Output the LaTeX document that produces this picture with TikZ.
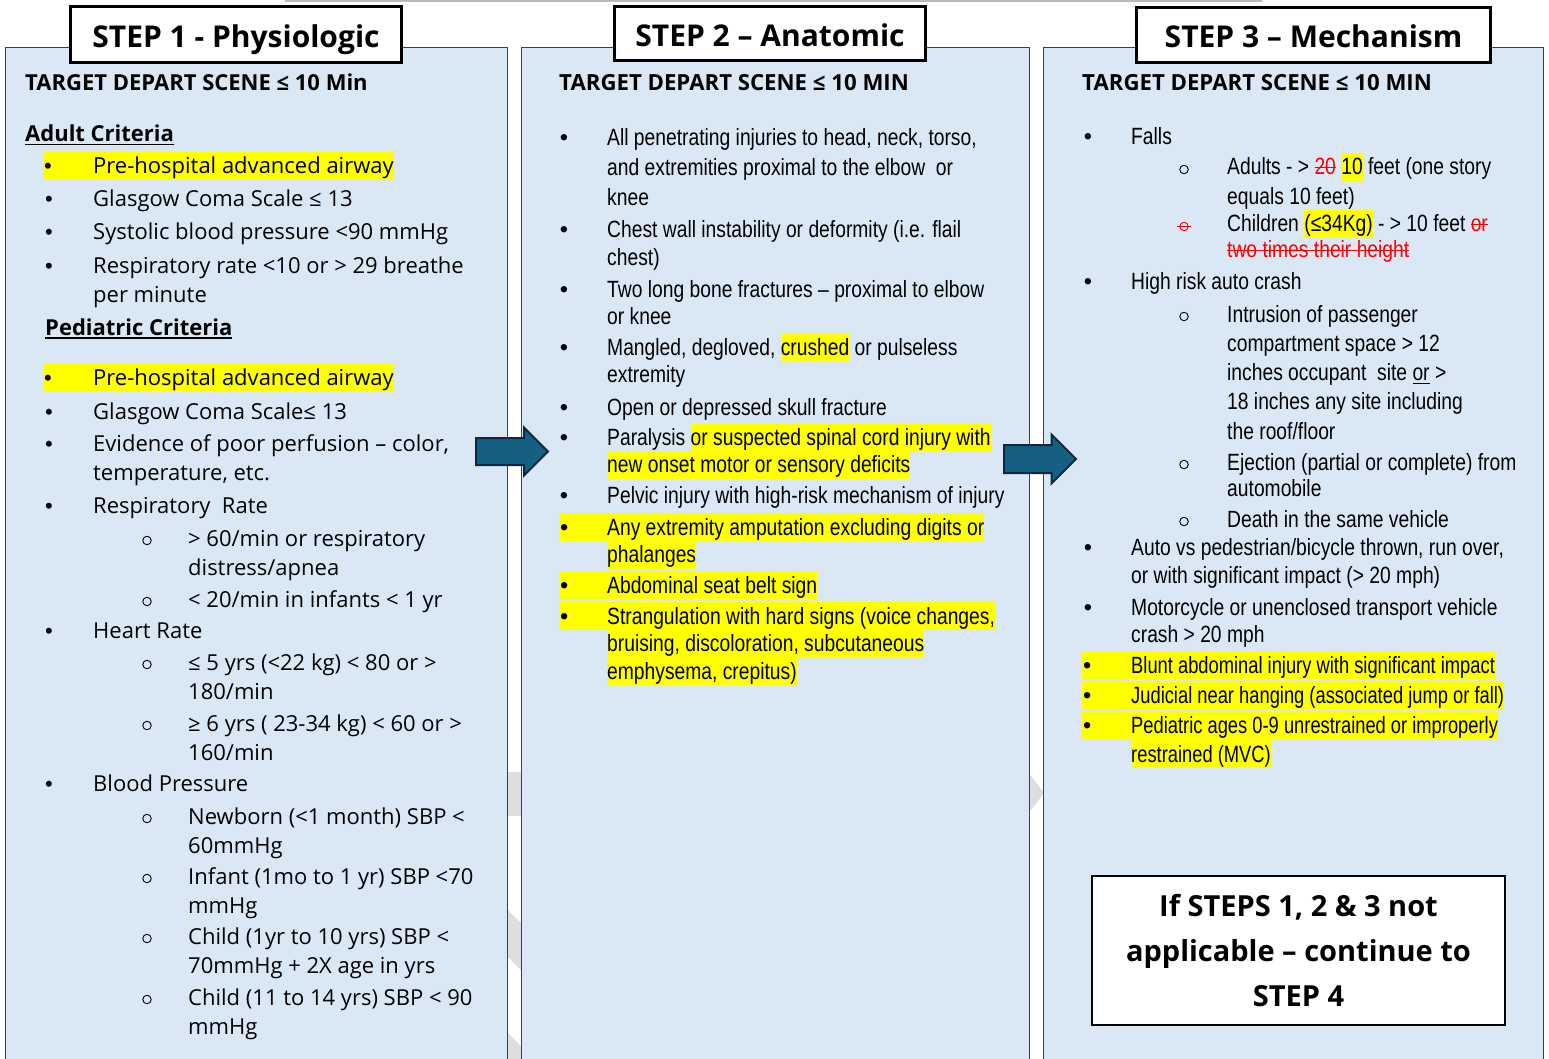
\documentclass[tikz,border=0pt]{standalone}
\usepackage{fontspec}
\usetikzlibrary{shapes.arrows}

\setmainfont{Open Sans}
\newfontfamily\narrowfont[FakeStretch=0.82]{Liberation Sans}
\newfontfamily\tightfont[FakeStretch=0.78]{Liberation Sans}
\newfontfamily\bulletfont{Liberation Sans}

\definecolor{panelblue}{HTML}{DAE8F5}
\definecolor{panelline}{HTML}{404040}
\definecolor{hlyellow}{HTML}{FFFF00}
\definecolor{arrowfill}{HTML}{156082}
\definecolor{arrowline}{HTML}{0E2841}
\definecolor{struck}{HTML}{FF0000}
\definecolor{wmgray}{HTML}{DEDEDE}

\setlength{\lineskiplimit}{-30pt}

% text sizes for the three columns
\newcommand{\lcol}{\fontsize{22}{29.5}\selectfont}
\newcommand{\ncol}{\narrowfont\fontsize{23.5}{27.5}\selectfont}
\newcommand{\ncolwide}{\narrowfont\fontsize{23.5}{30}\selectfont}
\newcommand{\rcol}{\narrowfont\fontsize{23.5}{28}\selectfont}
\newcommand{\rcolwide}{\narrowfont\fontsize{23.5}{29.3}\selectfont}
\newcommand{\rcoltight}{\tightfont\fontsize{23.5}{29}\selectfont}
% first line of a stack sits on the node's base
\newcommand{\lines}[1]{\vtop{\let\\\cr\halign{##\hfil\cr#1\crcr}}}
\newcommand{\bulsym}{{\bulletfont\textbullet}}
\newcommand{\hl}[1]{{\setlength{\fboxsep}{0pt}\colorbox{hlyellow}{\rule[-6pt]{0pt}{28pt}#1}}}
\newcommand{\hlbul}[1]{\hl{\makebox[#1][l]{\hspace{1pt}\bulsym}}}
\newsavebox{\markbox}
\newcommand{\gone}[1]{{\color{struck}\sbox{\markbox}{#1}\rlap{\rule[0.3em]{\wd\markbox}{1.3pt}}\usebox{\markbox}}}
\newcommand{\uln}[1]{{\sbox{\markbox}{#1}\rlap{\rule[-3.5pt]{\wd\markbox}{1.6pt}}\usebox{\markbox}}}

\begin{document}
\begin{tikzpicture}[
      x=1pt, y=-1pt,
      panel/.style={
          draw=panelline,
          line width=1.3pt,
          fill=panelblue,
          anchor=north west,
          inner sep=0,
          minimum height=1040pt
        },
      titlebox/.style={
          draw=black,
          line width=3pt,
          fill=white,
          inner sep=0,
          text height=26pt,
          text depth=0pt,
          font=\bfseries\fontsize{30}{36}\selectfont
        },
      flowarrow/.style={
          single arrow,
          anchor=tail,
          draw=arrowline,
          line width=2pt,
          fill=arrowfill,
          inner xsep=0,
          single arrow head extend=10.5pt
        },
      notebox/.style={
          draw=black,
          line width=1.3pt,
          fill=white,
          align=center,
          minimum width=413pt,
          minimum height=149pt,
          font=\bfseries\fontsize{29}{45}\selectfont
        },
      txt/.style={anchor=base west, inner sep=0},
      head/.style={txt, font=\bfseries\fontsize{22}{26}\selectfont},
      ltxt/.style={txt, font=\lcol},
      mtxt/.style={txt, font=\ncol},
      rtxt/.style={txt, font=\rcol},
      bul/.style={anchor=base, inner sep=0},
      hbul/.style={anchor=base west, inner sep=0},
      subbul/.style={circle, draw, line width=0.9pt, minimum size=8.5pt, inner sep=0, anchor=base, yshift=5.5pt}
    ]
    \useasboundingbox (0,0) rectangle (1549,1059);
    \clip (0,0) rectangle (1549,1059);
    \fill[white] (0,0) rectangle (1549,1059);
    \draw[gray!55, line width=1.5pt] (285,1) -- (1262,1);

    % faint background marks seen between the panels
    \fill[wmgray] (500,772) rectangle (525,816);
    \fill[wmgray] (500,902) -- (525,927) -- (525,974) -- (500,949) -- cycle;
    \fill[wmgray] (500,1025) -- (525,1050) -- (525,1070) -- (500,1070) -- cycle;
    \fill[wmgray] (1024,776) -- (1031,776) -- (1044,793) -- (1031,810) -- (1024,810) -- cycle;

    % Panels
    \node[panel, minimum width=502pt] (p1) at (5,47) {};
    \node[panel, minimum width=508pt] (p2) at (521,47) {};
    \node[panel, minimum width=500pt] (p3) at (1043,47) {};

    % Titles
    \node[titlebox, minimum width=331pt, minimum height=56pt] (t1) at (236,34.5) {STEP 1 - Physiologic};
    \node[titlebox, minimum width=311pt, minimum height=54pt] (t2) at (770,33.5) {STEP 2 – Anatomic};
    \node[titlebox, minimum width=354pt, minimum height=55pt] (t3) at (1313.5,35) {STEP 3 – Mechanism};

    % Arrows between panels
    \node[flowarrow, minimum height=72pt, inner ysep=12.5pt] (a12) at (475,451.5) {};
    \node[flowarrow, minimum height=72pt, inner ysep=13pt] (a23) at (1003,459) {};

    % Step 1
    \node[head] (l0) at (25,91) {TARGET DEPART SCENE ≤ 10 Min};
    \node[head] (ladult) at (25,142) {\uln{Adult Criteria}};
    \node[hbul, font=\lcol] at (43,174) {\hlbul{50pt}};
    \node[ltxt] (la1) at (93,174) {\hl{Pre-hospital advanced airway}};
    \node[bul, font=\lcol] at (49,207) {\bulsym};
    \node[ltxt] (la2) at (93,207) {Glasgow Coma Scale ≤ 13};
    \node[bul, font=\lcol] at (49,240) {\bulsym};
    \node[ltxt] (la3) at (93,240) {Systolic blood pressure <90 mmHg};
    \node[bul, font=\lcol] at (49,273) {\bulsym};
    \node[ltxt] (la4) at (93,273) {\lines{Respiratory rate <10 or > 29 breathe\\per minute}};
    \node[head] (lped) at (45,335) {\uln{Pediatric Criteria}};
    \node[hbul, font=\lcol] at (43,385) {\hlbul{50pt}};
    \node[ltxt] (lb1) at (93,385) {\hl{Pre-hospital advanced airway}};
    \node[bul, font=\lcol] at (49,419) {\bulsym};
    \node[ltxt] (lb2) at (93,419) {Glasgow Coma Scale≤ 13};
    \node[bul, font=\lcol] at (49,451) {\bulsym};
    \node[ltxt] (lb3) at (93,451) {\lines{Evidence of poor perfusion – color,\\temperature, etc.}};
    \node[bul, font=\lcol] at (49,513) {\bulsym};
    \node[ltxt] (lb4) at (93,513) {Respiratory\ \ Rate};
    \node[subbul] at (147,546) {};
    \node[ltxt] (lb4a) at (188,546) {\lines{> 60/min or respiratory\\distress/apnea}};
    \node[subbul] at (147,607) {};
    \node[ltxt] (lb4b) at (188,607) {< 20/min in infants < 1 yr};
    \node[bul, font=\lcol] at (49,638) {\bulsym};
    \node[ltxt] (lb5) at (93,638) {Heart Rate};
    \node[subbul] at (147,670) {};
    \node[ltxt] (lb5a) at (188,670) {\lines{≤ 5 yrs (<22 kg) < 80 or >\\180/min}};
    \node[subbul] at (147,731) {};
    \node[ltxt] (lb5b) at (188,731) {\lines{≥ 6 yrs ( 23-34 kg) < 60 or >\\160/min}};
    \node[bul, font=\lcol] at (49,791) {\bulsym};
    \node[ltxt] (lb6) at (93,791) {Blood Pressure};
    \node[subbul] at (147,824) {};
    \node[ltxt] (lb6a) at (188,824) {\lines{Newborn (<1 month) SBP <\\60mmHg}};
    \node[subbul] at (147,884) {};
    \node[ltxt] (lb6b) at (188,884) {\lines{Infant (1mo to 1 yr) SBP <70\\mmHg}};
    \node[subbul] at (147,944) {};
    \node[ltxt] (lb6c) at (188,944) {\lines{Child (1yr to 10 yrs) SBP <\\70mmHg + 2X age in yrs}};
    \node[subbul] at (147,1005) {};
    \node[ltxt] (lb6d) at (188,1005) {\lines{Child (11 to 14 yrs) SBP < 90\\mmHg}};

    % Step 2
    \node[head, font=\bfseries\fontsize{22.2}{26}\selectfont] (m0) at (559,91) {TARGET DEPART SCENE ≤ 10 MIN};
    \node[bul, font=\ncol] at (564,146) {\bulsym};
    \node[mtxt, font=\ncolwide] (m1) at (607,146) {\lines{All penetrating injuries to head, neck, torso,\\and extremities proximal to the elbow\ \ or\\knee}};
    \node[bul, font=\ncol] at (564,238) {\bulsym};
    \node[mtxt] (m2) at (607,238) {\lines{Chest wall instability or deformity (i.e. flail\\chest)}};
    \node[bul, font=\ncol] at (564,297) {\bulsym};
    \node[mtxt] (m3) at (607,297) {\lines{Two long bone fractures – proximal to elbow\\or knee}};
    \node[bul, font=\ncol] at (564,355) {\bulsym};
    \node[mtxt] (m4) at (607,355) {\lines{Mangled, degloved, \hl{crushed} or pulseless\\extremity}};
    \node[bul, font=\ncol] at (564,415) {\bulsym};
    \node[mtxt] (m5) at (607,415) {Open or depressed skull fracture};
    \node[bul, font=\ncol] at (564,445) {\bulsym};
    \node[mtxt] (m6) at (607,445) {\lines{Paralysis \hl{or suspected spinal cord injury with}\\\hl{new onset motor or sensory deficits}}};
    \node[bul, font=\ncol] at (564,503) {\bulsym};
    \node[mtxt] (m7) at (607,503) {Pelvic injury with high-risk mechanism of injury};
    \node[hbul, font=\ncol] at (559,535) {\hlbul{48pt}};
    \node[mtxt] (m8) at (607,535) {\lines{\hl{Any extremity amputation excluding digits or}\\\hl{phalanges}}};
    \node[hbul, font=\ncol] at (559,593) {\hlbul{48pt}};
    \node[mtxt] (m9) at (607,593) {\hl{Abdominal seat belt sign}};
    \node[hbul, font=\ncol] at (559,624) {\hlbul{48pt}};
    \node[mtxt] (m10) at (607,624) {\lines{\hl{Strangulation with hard signs (voice changes,}\\\hl{bruising, discoloration, subcutaneous}\\\hl{emphysema, crepitus)}}};

    % Step 3
    \node[head, font=\bfseries\fontsize{22.2}{26}\selectfont] (r0) at (1082,91) {TARGET DEPART SCENE ≤ 10 MIN};
    \node[bul, font=\rcol] at (1088,145) {\bulsym};
    \node[rtxt] (r1) at (1131,145) {Falls};
    \node[subbul] at (1184,175) {};
    \node[rtxt, font=\rcolwide] (r1a) at (1227,175) {\lines{Adults - > \gone{20} \hl{10} feet (one story\\equals 10 feet)}};
    \node[subbul, draw=struck] (sbx) at (1184,232) {};
    \draw[struck, line width=1.3pt] ([xshift=-2.5pt]sbx.west) -- ([xshift=2.5pt]sbx.east);
    \node[rtxt, font=\narrowfont\fontsize{23.5}{26}\selectfont] (r1b) at (1227,232) {\lines{Children \hl{(≤34Kg)} - > 10 feet \gone{or}\\\gone{two times their height}}};
    \node[bul, font=\rcol] at (1088,290) {\bulsym};
    \node[rtxt] (r2) at (1131,290) {High risk auto crash};
    \node[subbul] at (1184,322) {};
    \node[rtxt, font=\rcolwide] (r2a) at (1227,322) {\lines{Intrusion of passenger\\compartment space > 12\\inches occupant\ \ site \uln{or} >\\18 inches any site including\\the roof/floor}};
    \node[subbul] at (1184,470) {};
    \node[rtxt, font=\narrowfont\fontsize{23.5}{26.5}\selectfont] (r2b) at (1227,470) {\lines{Ejection (partial or complete) from\\automobile}};
    \node[subbul] at (1184,527) {};
    \node[rtxt] (r2c) at (1227,527) {Death in the same vehicle};
    \node[bul, font=\rcol] at (1088,555) {\bulsym};
    \node[rtxt] (r3) at (1131,555) {\lines{Auto vs pedestrian/bicycle thrown, run over,\\or with significant impact (> 20 mph)}};
    \node[bul, font=\rcol] at (1088,615) {\bulsym};
    \node[rtxt, font=\narrowfont\fontsize{23.5}{27}\selectfont] (r4) at (1131,615) {\lines{Motorcycle or unenclosed transport vehicle\\crash > 20 mph}};
    \node[hbul, font=\rcol] at (1082,673) {\hlbul{49pt}};
    \node[rtxt, font=\rcoltight] (r5) at (1131,673) {\hl{Blunt abdominal injury with significant impact}};
    \node[hbul, font=\rcol] at (1082,703) {\hlbul{49pt}};
    \node[rtxt, font=\rcoltight] (r6) at (1131,703) {\hl{Judicial near hanging (associated jump or fall)}};
    \node[hbul, font=\rcol] at (1082,733) {\hlbul{49pt}};
    \node[rtxt, font=\rcoltight] (r7) at (1131,733) {\lines{\hl{Pediatric ages 0-9 unrestrained or improperly}\\\hl{restrained (MVC)}}};

    % Step 4 note
    \node[notebox] (s4) at (1298.5,950.5) {If STEPS 1, 2 \& 3 not\\applicable – continue to\\STEP 4};
  \end{tikzpicture}
\end{document}
